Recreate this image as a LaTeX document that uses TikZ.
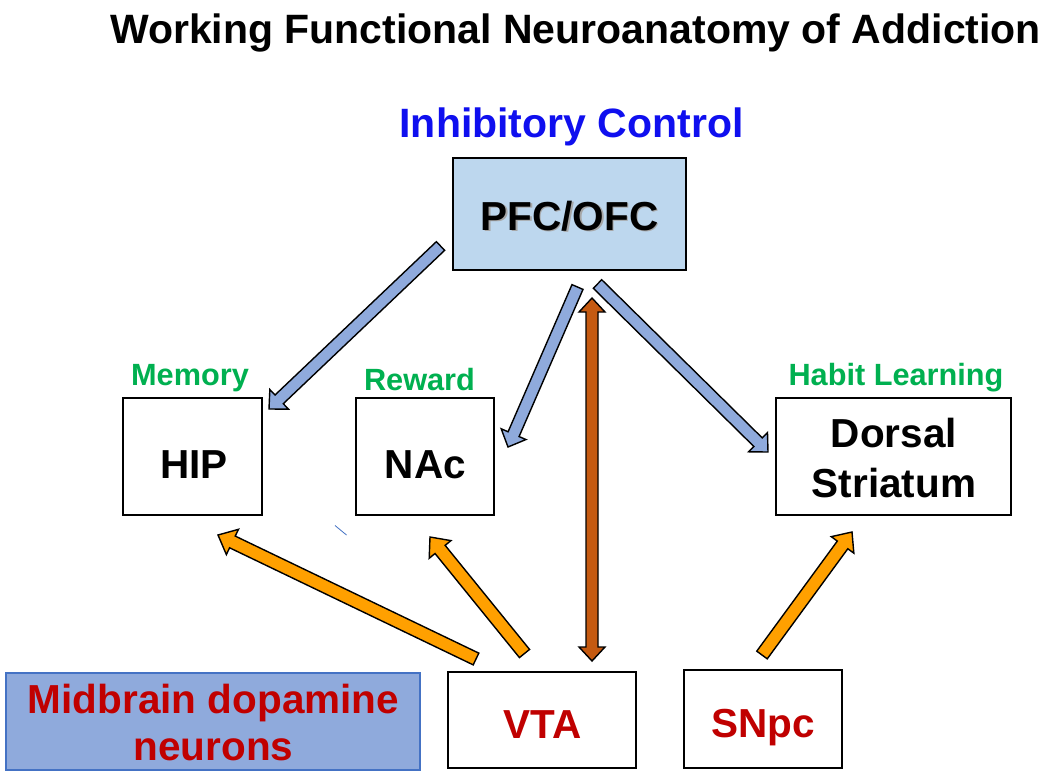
\documentclass[tikz,border=0pt]{standalone}
\usepackage{fontspec}
\setmainfont{Liberation Sans}
\usetikzlibrary{calc}
\definecolor{pfcfill}{HTML}{BDD7EE}
\definecolor{arrblue}{HTML}{8FAADC}
\definecolor{midfill}{HTML}{8FAADC}
\definecolor{midedge}{HTML}{4472C4}
\definecolor{brownarr}{HTML}{C55A11}
\definecolor{orangearr}{HTML}{FFA000}
\definecolor{darkred}{HTML}{C00000}
\definecolor{inhblue}{HTML}{0F0FEF}
\definecolor{lblgreen}{HTML}{00B050}
\newcommand\blockarrow[6][]{%
  \coordinate (bah) at ($(#3)!#6!(#2)$);
  \draw[#1] ($(#2)!#4!90:(#3)$) -- ($(bah)!#4!90:(#3)$) -- ($(bah)!#5!90:(#3)$) -- (#3)
    -- ($(bah)!#5!-90:(#3)$) -- ($(bah)!#4!-90:(#3)$) -- ($(#2)!#4!-90:(#3)$) -- cycle;}
\newcommand\dblarrow[6][]{%
  \coordinate (bah) at ($(#3)!#6!(#2)$);
  \coordinate (bat) at ($(#2)!#6!(#3)$);
  \draw[#1] (#2) -- ($(bat)!#5!90:(#3)$) -- ($(bat)!#4!90:(#3)$) -- ($(bah)!#4!90:(#3)$)
    -- ($(bah)!#5!90:(#3)$) -- (#3) -- ($(bah)!#5!-90:(#3)$) -- ($(bah)!#4!-90:(#3)$)
    -- ($(bat)!#4!-90:(#3)$) -- ($(bat)!#5!-90:(#3)$) -- cycle;}
\begin{document}
\begin{tikzpicture}[x=1pt,y=-1pt,
  box/.style={draw=black, line width=1.6pt, inner sep=0pt},
  big/.style={anchor=base, inner sep=0pt, font=\fontsize{40.5}{48}\selectfont\bfseries},
  lbl/.style={anchor=base, inner sep=0pt, text=lblgreen, font=\fontsize{30.7}{37}\selectfont\bfseries},
  bluearrow/.style={fill=arrblue, draw=black, line width=1.4pt, line join=miter},
  orangearrow/.style={fill=orangearr, draw=black, line width=1.4pt, line join=miter},
  brownarrow/.style={fill=brownarr, draw=black, line width=1.4pt, line join=miter}]
\useasboundingbox (0,0) rectangle (1050,777);
\fill[white] (0,0) rectangle (1050,777);

% title
\node[big, font=\fontsize{41}{49}\selectfont\bfseries] (title) at (575.5,43) {Working Functional Neuroanatomy of Addiction};
\node[big, font=\fontsize{41}{49}\selectfont\bfseries, text=inhblue] (inh) at (571.5,137) {Inhibitory Control};

% boxes
\node[box, fill=pfcfill, minimum width=233pt, minimum height=112pt] (pfc) at (569.5,214) {};
\node[big, text=black!35] (pfcs) at (571,231.5) {PFC/OFC};
\node[big] (pfct) at (569.5,230) {PFC/OFC};

\node[box, minimum width=139pt, minimum height=117pt] (hip) at (192.5,456.5) {};
\node[big] (hipt) at (194,478) {HIP};
\node[box, minimum width=138pt, minimum height=117pt] (nac) at (425,456.5) {};
\node[big] (nact) at (425.5,478) {NAc};
\node[box, minimum width=235pt, minimum height=117pt] (ds) at (893.5,456.5) {};
\node[big] (dst1) at (894,447) {Dorsal};
\node[big] (dst2) at (894,497) {Striatum};

\node[lbl] (mem) at (190,385) {Memory};
\node[lbl] (rew) at (419.5,390) {Reward};
\node[lbl] (hab) at (896,385) {Habit Learning};

\node[box, minimum width=188pt, minimum height=96pt] (vta) at (542,720) {};
\node[big, text=darkred] (vtat) at (542.5,738) {VTA};
\node[box, minimum width=158pt, minimum height=98pt] (snpc) at (763,719) {};
\node[big, text=darkred] (snpct) at (763.5,737) {SNpc};

\node[draw=midedge, line width=1.2pt, fill=midfill, minimum width=414pt, minimum height=97pt, inner sep=0pt] (mid) at (213,721.5) {};
\node[big, text=darkred] (midt1) at (213.5,713) {Midbrain dopamine};
\node[big, text=darkred] (midt2) at (213.5,760) {neurons};

% arrow end points
\coordinate (a1s) at (440.5,246); \coordinate (a1e) at (269,409);
\coordinate (a2s) at (577.5,287); \coordinate (a2e) at (508,447);
\coordinate (a3s) at (597.5,284); \coordinate (a3e) at (768,452);
\coordinate (a4s) at (592,298);   \coordinate (a4e) at (592,661);
\coordinate (a5s) at (476,659);   \coordinate (a5e) at (218,535);
\coordinate (a6s) at (524.5,653.5); \coordinate (a6e) at (430,537);
\coordinate (a7s) at (762,655);   \coordinate (a7e) at (852,532);

\blockarrow[bluearrow]{a1s}{a1e}{6pt}{13.5pt}{14pt}
\blockarrow[bluearrow]{a2s}{a2e}{6pt}{13.5pt}{14pt}
\blockarrow[bluearrow]{a3s}{a3e}{6pt}{13.5pt}{14pt}
\dblarrow[brownarrow]{a4s}{a4e}{6pt}{13pt}{14pt}
\blockarrow[orangearrow]{a5s}{a5e}{6.5pt}{14pt}{16pt}
\blockarrow[orangearrow]{a6s}{a6e}{6.5pt}{14pt}{16pt}
\blockarrow[orangearrow]{a7s}{a7e}{6.5pt}{14pt}{16pt}

% small stray stroke
\coordinate (st1) at (335,525.5); \coordinate (st2) at (346.5,535);
\draw[midedge, line width=0.8pt] (st1) -- (st2);
\end{tikzpicture}
\end{document}
